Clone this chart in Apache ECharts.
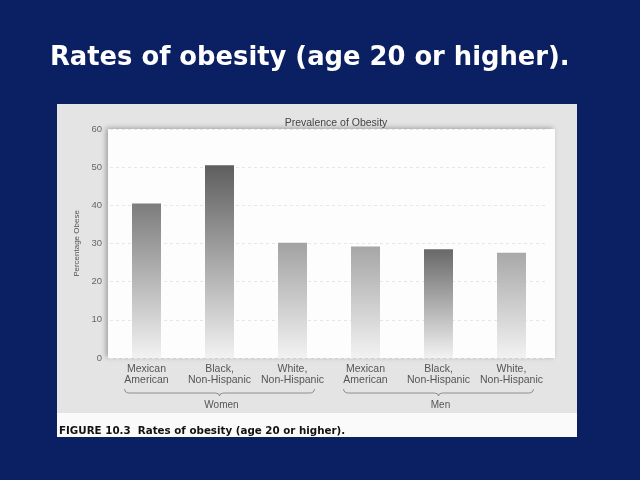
<!DOCTYPE html>
<html><head><meta charset="utf-8">
<script src="https://cdn.jsdelivr.net/npm/echarts@6/dist/echarts.min.js"></script>
<style>html,body{margin:0;padding:0;background:#0b2062;}#c{width:640px;height:480px;}</style>
</head><body><div id="c"></div>
<script>
const categories = ['Mexican\nAmerican','Black,\nNon-Hispanic','White,\nNon-Hispanic','Mexican\nAmerican','Black,\nNon-Hispanic','White,\nNon-Hispanic'];
const values = [40.5, 50.5, 30.2, 29.2, 28.5, 27.6];
const groups = ['Women','Men'];
const yTicks = [0,10,20,30,40,50,60];
const topColors = ['#7c7c7c','#5e5e5e','#a2a2a2','#a6a6a6','#686868','#a8a8a8'];

const chart = echarts.init(document.getElementById('c'));
const gridL = 110, gridR = 92, gridT = 129, gridB = 122;
const opt = {
  backgroundColor: '#0b2062',
  animation: false,
  title: [{
    text: 'Rates of obesity (age 20 or higher).',
    left: 45, top: 40,
    textStyle: {color:'#ffffff', fontFamily:'DejaVu Sans', fontWeight:'bold', fontSize:25.8}
  },{
    text: 'Prevalence of Obesity',
    left: 331, top: 113, textAlign:'center',
    textStyle: {color:'#444', fontFamily:'Liberation Sans', fontWeight:'normal', fontSize:10.5}
  }],
  grid: {left: gridL, right: gridR, top: gridT, bottom: gridB, containLabel:false},
  xAxis: {
    type:'category', data: categories,
    axisLine:{show:false}, axisTick:{show:false},
    axisLabel:{color:'#555', fontFamily:'Liberation Sans', fontSize:10.5, lineHeight:10.5, margin:6, interval:0}
  },
  yAxis: {
    type:'value', min: yTicks[0], max: yTicks[yTicks.length-1], interval: 10,
    name:'Percentage Obese', nameLocation:'middle', nameGap:29,
    nameTextStyle:{color:'#555', fontFamily:'Liberation Sans', fontSize:8},
    axisLine:{show:false}, axisTick:{show:false},
    axisLabel:{color:'#666', fontFamily:'Liberation Sans', fontSize:9.5, margin:8},
    splitLine:{show:true, lineStyle:{color:'#e6e6e6', type:[3,3], width:1}}
  },
  series: [{
    type:'bar', barWidth: 29,
    data: values.map((v,i)=>({value:v, itemStyle:{
      color: new echarts.graphic.LinearGradient(0,0,0,1,[{offset:0,color:topColors[i]},{offset:1,color:'#f2f2f2'}]),
      shadowColor:'rgba(0,0,0,0.45)', shadowBlur:7, shadowOffsetX:4, shadowOffsetY:0
    }})),
    z: 3
  }],
  graphic: []
};
chart.setOption(opt);

const y0 = chart.convertToPixel({yAxisIndex:0}, 0);
const y60 = chart.convertToPixel({yAxisIndex:0}, 60);
const cx = categories.map((c,i)=>chart.convertToPixel({xAxisIndex:0}, i));
const band = cx[1]-cx[0];
const g = [];
g.push({type:'rect', z:-10, shape:{x:57,y:104,width:520,height:333}, style:{fill:'#e4e4e4'}});
g.push({type:'rect', z:-10, shape:{x:57,y:413,width:520,height:24}, style:{fill:'#fafafa'}});
g.push({type:'rect', z:-9, shape:{x:108,y:y60,width:447,height:y0-y60}, style:{fill:'#fdfdfd', shadowColor:'rgba(0,0,0,0.3)', shadowBlur:5, shadowOffsetX:-2, shadowOffsetY:-1}});
g.push({type:'text', z:10, style:{text:'FIGURE 10.3  Rates of obesity (age 20 or higher).', x:59, y:431, fill:'#111', font:'bold 10.3px "DejaVu Sans"', textVerticalAlign:'middle'}});
const by = y0 + 35;
const bs = {stroke:'#777', fill:null, lineWidth:0.8};
for (let k=0;k<2;k++){
  const a = cx[k*3] - band*0.3, b = cx[k*3+2] + band*0.3, m = (a+b)/2;
  g.push({type:'bezierCurve', z:10, shape:{x1:a,y1:by-4,cpx1:a,cpy1:by,x2:a+5,y2:by}, style:bs});
  g.push({type:'line', z:10, shape:{x1:a+5,y1:by,x2:m-4,y2:by}, style:bs});
  g.push({type:'bezierCurve', z:10, shape:{x1:m-4,y1:by,cpx1:m,cpy1:by,x2:m,y2:by+3}, style:bs});
  g.push({type:'bezierCurve', z:10, shape:{x1:m,y1:by+3,cpx1:m,cpy1:by,x2:m+4,y2:by}, style:bs});
  g.push({type:'line', z:10, shape:{x1:m+4,y1:by,x2:b-5,y2:by}, style:bs});
  g.push({type:'bezierCurve', z:10, shape:{x1:b-5,y1:by,cpx1:b,cpy1:by,x2:b,y2:by-4}, style:bs});
  g.push({type:'text', z:10, style:{text:groups[k], x:m+2, y:by+12, fill:'#555', font:'10px "Liberation Sans"', textAlign:'center', textVerticalAlign:'middle'}});
}
chart.setOption({graphic:g});
</script></body></html>
